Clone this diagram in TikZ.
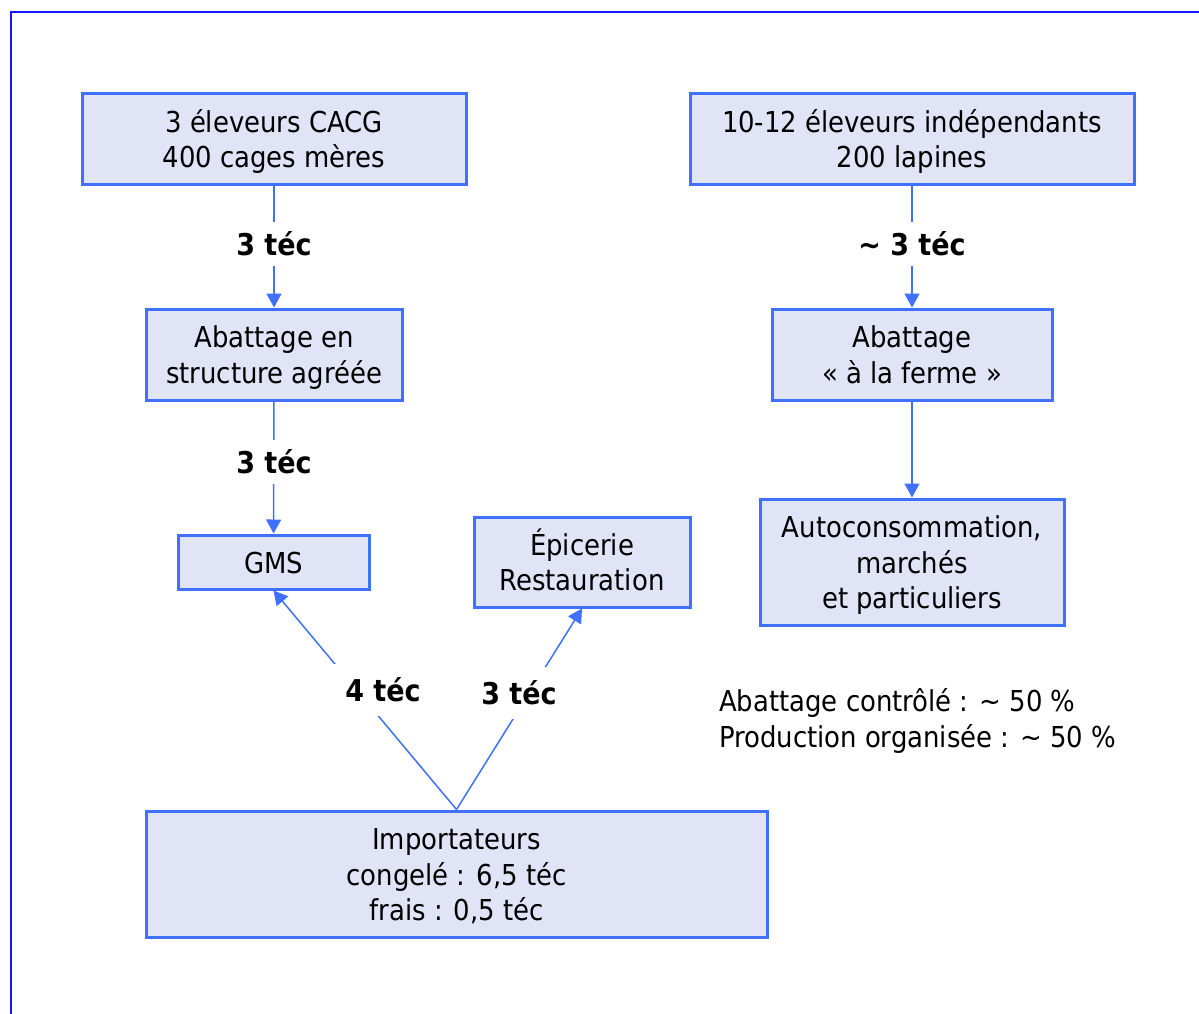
\documentclass[tikz,border=0pt]{standalone}
\usepackage{fontspec}
\setmainfont{DejaVu Sans Condensed}
\usetikzlibrary{arrows.meta}
\definecolor{frameblue}{RGB}{20,20,255}
\definecolor{boxblue}{RGB}{64,112,255}
\definecolor{boxfill}{RGB}{224,228,246}
% fixed line struts so every box places its text the same way
\newcommand\firstln{\rule{0pt}{30pt}}
\newcommand\lastln{\rule[-8pt]{0pt}{8pt}}
\tikzset{
  flowbox/.style={draw=boxblue, line width=3pt, fill=boxfill, align=center,
    inner sep=0pt, font=\fontsize{28.8}{35.5}\selectfont},
  flowarrow/.style={draw=boxblue, line width=1.5pt,
    -{Triangle[length=14pt,width=15pt]}},
  qty/.style={fill=white, inner sep=0pt, font=\fontsize{30}{35}\selectfont\bfseries},
  note/.style={align=left, anchor=west, inner sep=0pt, font=\fontsize{28.8}{36}\selectfont}
}
\begin{document}
\begin{tikzpicture}[x=1pt,y=-1pt]
\useasboundingbox (0,0) rectangle (1199,1014);
\begin{scope}
\clip (0,0) rectangle (1199,1014);
\draw[frameblue, line width=2pt] (11,12) rectangle (1230,1040);
\end{scope}

% producer boxes
\node[flowbox, minimum width=384pt, minimum height=90pt] (cacg) at (274,139)
  {\firstln 3 éleveurs CACG\\400 cages mères\lastln};
\node[flowbox, minimum width=444pt, minimum height=90pt] (indep) at (912,139)
  {\firstln 10-12 éleveurs indépendants\\200 lapines\lastln};

% slaughter boxes
\node[flowbox, minimum width=256pt, minimum height=91pt] (agree) at (274,354.5)
  {\firstln Abattage en\\structure agréée\lastln};
\node[flowbox, minimum width=280pt, minimum height=91pt] (ferme) at (912,354.5)
  {\firstln Abattage\\« à la ferme »\lastln};

% outlets
\node[flowbox, minimum width=191pt, minimum height=54pt] (gms) at (273.5,562)
  {\firstln GMS\lastln};
\node[flowbox, minimum width=216pt, minimum height=90pt] (epi) at (582,562)
  {\firstln Épicerie\\Restauration\lastln};
\node[flowbox, minimum width=304pt, minimum height=126pt] (auto) at (912,562)
  {\firstln Autoconsommation,\\marchés\\et particuliers\lastln};

% imports
\node[flowbox, minimum width=621pt, minimum height=126pt] (imp) at (456.5,874)
  {\firstln Importateurs\\congelé : 6,5 téc\\frais : 0,5 téc\lastln};

% flows
\draw[flowarrow] (cacg) -- (agree);
\draw[flowarrow] (agree) -- (gms);
\draw[flowarrow] (indep) -- (ferme);
\draw[flowarrow] (ferme) -- (auto);
\draw[flowarrow] (imp.north) -- (gms.south);
\draw[flowarrow] (imp.north) -- (epi.south);

% quantities on the flows
\node[qty, minimum height=44pt] (q1) at (274,244) {3 téc};
\node[qty, minimum height=44pt] (q2) at (274,462) {3 téc};
\node[qty, minimum height=44pt] (q3) at (912,244) {\textasciitilde{} 3 téc};
\node[qty, minimum height=52pt, minimum width=110pt] (q4) at (383,690) {4 téc};
\node[qty, minimum height=52pt, minimum width=80pt] (q5) at (519,693) {3 téc};

% shares
\node[note] (shares) at (719,721)
  {Abattage contrôlé : \textasciitilde{} 50 \%\\Production organisée : \textasciitilde{} 50 \%};
\end{tikzpicture}
\end{document}
